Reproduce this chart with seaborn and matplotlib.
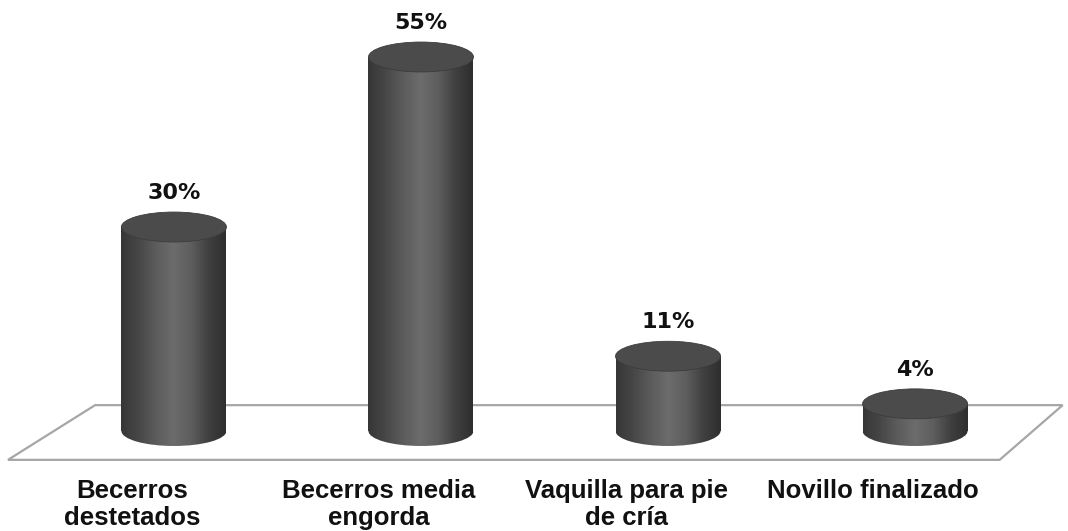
import matplotlib
matplotlib.use("Agg")
import matplotlib.pyplot as plt
import seaborn as sns
import numpy as np
from matplotlib.patches import Ellipse, Polygon
from matplotlib.colors import LinearSegmentedColormap

# datos
categorias = ["Becerros\ndestetados", "Becerros media\nengorda", "Vaquilla para pie\nde cría", "Novillo finalizado"]
valores = [30, 55, 11, 4]
etiquetas = ["30%", "55%", "11%", "4%"]

sns.set_theme(style="white")
plt.rcParams['font.family'] = ['DejaVu Sans']

fig = plt.figure(figsize=(10.68, 5.31), dpi=100)
ax = fig.add_axes([0, 0, 1, 1])

sns.barplot(x=categorias, y=valores, ax=ax, width=0.425, color='#555555', zorder=3)

# piso en perspectiva (decoracion)
piso = Polygon([[0.089, 0.237], [0.995, 0.237], [0.936, 0.134], [0.0075, 0.134]],
               closed=True, transform=ax.transAxes, facecolor='white',
               edgecolor='#a6a6a6', linewidth=1.6, zorder=1)
ax.add_patch(piso)

cmap = LinearSegmentedColormap.from_list(
    'cil', ['#363636', '#474747', '#5c5c5c', '#6c6c6c', '#5e5e5e', '#404040', '#2e2e2e'])
grad = np.linspace(0, 1, 256).reshape(1, -1)
alto_elipse = 4.4

for barra, v, txt in zip(ax.patches, valores, etiquetas):
    x0 = barra.get_x()
    w = barra.get_width()
    h = barra.get_height()
    cx = x0 + w / 2
    barra.set_facecolor('none')
    barra.set_edgecolor('none')
    # cuerpo
    im = ax.imshow(grad, extent=[x0, x0 + w, 0, h], cmap=cmap, aspect='auto', zorder=3)
    im.set_clip_path(barra)
    # base
    base = Ellipse((cx, 0), w, alto_elipse, facecolor='none', edgecolor='none')
    ax.add_patch(base)
    im2 = ax.imshow(grad, extent=[x0, x0 + w, -alto_elipse, 0.5], cmap=cmap, aspect='auto', zorder=3)
    im2.set_clip_path(base)
    # tapa
    tapa = Ellipse((cx, h), w, alto_elipse, facecolor='#4b4b4b', edgecolor='#3c3c3c',
                   linewidth=0.6, zorder=4)
    ax.add_patch(tapa)
    ax.text(cx, h + 5.0, txt, ha='center', va='center', fontsize=16,
            fontweight='bold', color='#111111', zorder=5)

# etiquetas de categoria, corridas hacia la izquierda por la perspectiva
for i, cat in enumerate(categorias):
    ax.text(i - 0.17, -7.1, cat, ha='center', va='top', fontsize=18.5,
            fontweight='bold', family=['Liberation Sans', 'DejaVu Sans'],
            color='#111111', linespacing=1.14)

ax.set_xlim(-0.704, 3.619)
ax.set_ylim(-14.7, 63.38)
ax.axis('off')

fig.savefig('out.png', dpi=100)
